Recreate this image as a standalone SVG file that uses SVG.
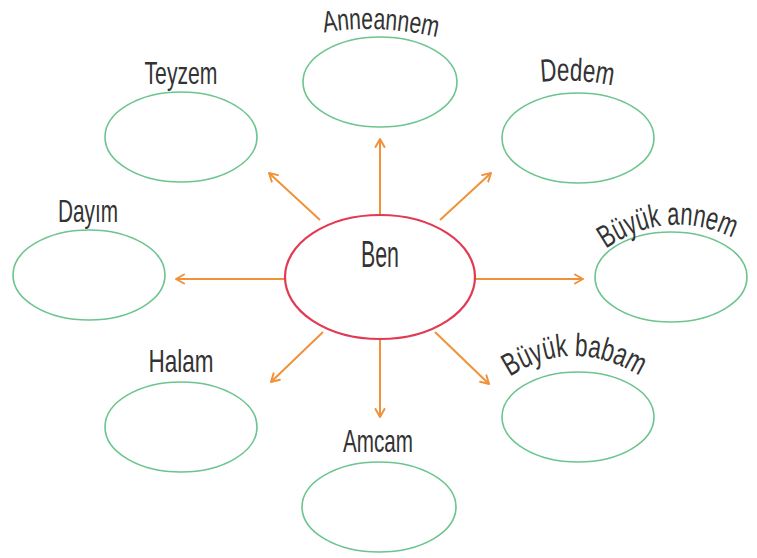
<svg xmlns="http://www.w3.org/2000/svg" width="757" height="558" viewBox="0 0 757 558">
<style>
.node{fill:#fff;stroke:#6cc48e;stroke-width:1.6}
.center{fill:#fff;stroke:#e23a52;stroke-width:2.2}
.lbl{font-family:"Liberation Sans",Arial,sans-serif;font-size:32px;fill:#333}
.arr{stroke:#f0923a;stroke-width:2;fill:none;marker-end:url(#ah)}
</style>
<defs>
<marker id="ah" markerWidth="12" markerHeight="12" refX="9" refY="5" orient="auto" markerUnits="userSpaceOnUse" viewBox="0 0 12 10">
<path d="M1 0.5 L9 5 L1 9.5" fill="none" stroke="#f0923a" stroke-width="2" stroke-linecap="round" stroke-linejoin="round"/>
</marker>
<path id="pAnne" d="M322 33 Q378 23 440 38"/>
<path id="pBA" d="M604 250 Q668 205 737 240"/>
<path id="pBB" d="M508 378 Q575 333 646 380"/>
<path id="pDedem" d="M540 82 Q578 78 614 86"/>
</defs>
<g id="connectors">
<line class="arr" x1="380" y1="215" x2="380" y2="139"/>
<line class="arr" x1="320" y1="220" x2="269" y2="173"/>
<line class="arr" x1="440" y1="220" x2="491" y2="173"/>
<line class="arr" x1="285" y1="279" x2="176" y2="279"/>
<line class="arr" x1="475" y1="279" x2="583" y2="279"/>
<line class="arr" x1="323" y1="332" x2="271" y2="382"/>
<line class="arr" x1="380" y1="339" x2="380" y2="417"/>
<line class="arr" x1="435" y1="332" x2="489" y2="384"/>
</g>
<g id="ben">
<ellipse class="center" cx="380" cy="277" rx="95" ry="62"/>
<text class="lbl" x="380" y="267" text-anchor="middle" textLength="38" lengthAdjust="spacingAndGlyphs" style="font-size:36px">Ben</text>
</g>
<g id="anneannem">
<ellipse class="node" cx="380" cy="82" rx="77" ry="45"/>
<text class="lbl" style="font-size:30px" textLength="114" lengthAdjust="spacingAndGlyphs"><textPath href="#pAnne" startOffset="2" textLength="114" lengthAdjust="spacingAndGlyphs">Anneannem</textPath></text>
</g>
<g id="teyzem">
<ellipse class="node" cx="181" cy="137" rx="76" ry="45"/>
<text class="lbl" x="181" y="84" text-anchor="middle" textLength="73" lengthAdjust="spacingAndGlyphs">Teyzem</text>
</g>
<g id="dedem">
<ellipse class="node" cx="578" cy="138" rx="76" ry="45"/>
<text class="lbl" textLength="72" lengthAdjust="spacingAndGlyphs"><textPath href="#pDedem" startOffset="1" textLength="72" lengthAdjust="spacingAndGlyphs">Dedem</textPath></text>
</g>
<g id="dayim">
<ellipse class="node" cx="89" cy="275" rx="76" ry="45"/>
<text class="lbl" x="88" y="222" text-anchor="middle" textLength="60" lengthAdjust="spacingAndGlyphs">Dayım</text>
</g>
<g id="buyuk-annem">
<ellipse class="node" cx="671" cy="277" rx="76" ry="45"/>
<text class="lbl" textLength="134" lengthAdjust="spacingAndGlyphs"><textPath href="#pBA" startOffset="2" textLength="134" lengthAdjust="spacingAndGlyphs">Büyük annem</textPath></text>
</g>
<g id="halam">
<ellipse class="node" cx="181" cy="427" rx="76" ry="45"/>
<text class="lbl" x="181" y="372" text-anchor="middle" textLength="65" lengthAdjust="spacingAndGlyphs">Halam</text>
</g>
<g id="buyuk-babam">
<ellipse class="node" cx="578" cy="417" rx="76" ry="45"/>
<text class="lbl" textLength="138" lengthAdjust="spacingAndGlyphs"><textPath href="#pBB" startOffset="2" textLength="138" lengthAdjust="spacingAndGlyphs">Büyük babam</textPath></text>
</g>
<g id="amcam">
<ellipse class="node" cx="379" cy="507" rx="77" ry="45"/>
<text class="lbl" x="378" y="452" text-anchor="middle" textLength="70" lengthAdjust="spacingAndGlyphs">Amcam</text>
</g>
</svg>
